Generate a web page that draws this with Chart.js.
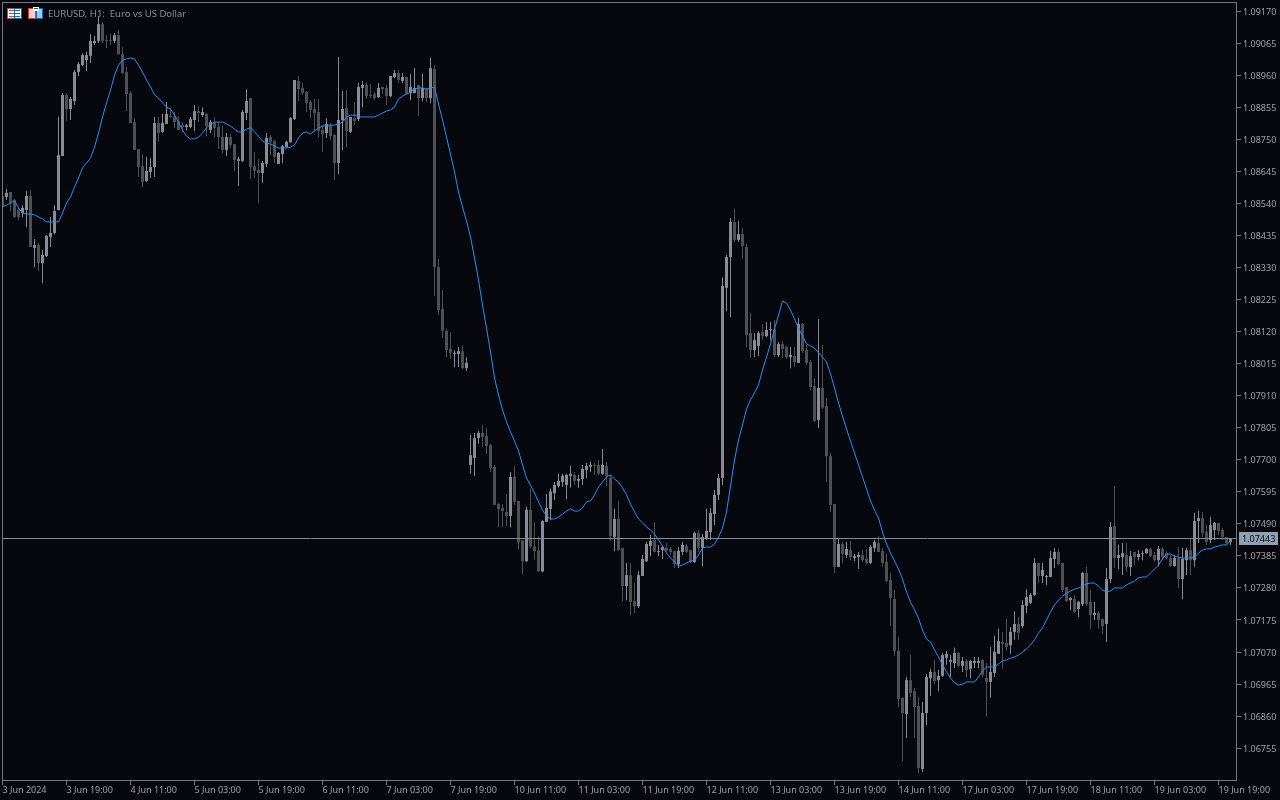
<!DOCTYPE html>
<html><head><meta charset="utf-8">
<style>html,body{margin:0;padding:0;background:#07080d;overflow:hidden}canvas{display:block}</style>
<script src="https://cdn.jsdelivr.net/npm/chart.js@4"></script></head>
<body><canvas id="c" width="1280" height="800"></canvas>
<script>
// All price series are in 1e-5 units (points): 108574 = 1.08574
const highs=[108574,108587,108577,108554,108528,108534,108580,108584,108423,108410,
108387,108436,108495,108534,108823,108901,108901,108888,108977,109003,
109032,109036,109095,109088,109154,109134,109091,109095,109098,109108,
109052,108987,108908,108819,108718,108701,108692,108688,108823,108823,
108833,108872,108852,108839,108826,108806,108800,108823,108862,108859,
108855,108836,108813,108823,108806,108793,108770,108767,108734,108692,
108846,108914,108885,108708,108685,108679,108770,108764,108747,108708,
108731,108744,108823,108944,108957,108934,108908,108878,108882,108882,
108796,108819,108803,108767,109019,108908,108911,108823,108872,108934,
108941,108937,108931,108905,108934,108921,108928,108957,108977,108977,
108967,108954,108964,108983,108928,108964,108918,109016,108993,108358,
108256,108128,108118,108059,108069,108073,108036,107781,107788,107794,
107814,107804,107752,107683,107558,107555,107588,107660,107680,107565,
107436,107547,107606,107495,107449,107502,107588,107606,107627,107654,
107654,107654,107680,107660,107650,107683,107690,107693,107690,107699,
107735,107693,107650,107539,107565,107411,107362,107362,107296,107335,
107388,107431,107454,107496,107421,107418,107427,107414,107401,107414,
107431,107424,107404,107463,107470,107457,107539,107542,107601,107654,
108298,108371,108492,108521,108482,108459,108407,108181,108115,108122,
108145,108151,108151,108158,108086,108089,108073,108069,108069,108164,
108148,108076,108027,107968,108161,108076,107902,107722,107555,107444,
107431,107431,107434,107391,107398,107404,107408,107421,107437,107450,
107411,107394,107329,107273,107119,106920,106988,107060,106952,106923,
106906,106998,107015,107044,107011,107067,107074,107060,107084,107070,
107054,107047,107044,107054,107054,107047,107034,107087,107123,107146,
107136,107178,107152,107204,107185,107240,107276,107263,107378,107362,
107362,107322,107401,107411,107408,107362,107283,107250,107257,107237,
107332,107349,107273,107234,107204,107181,107345,107496,107614,107421,
107427,107427,107401,107398,107404,107401,107411,107411,107398,107417,
107414,107401,107388,107388,107414,107411,107411,107440,107526,107532,
107529,107486,107512,107496,107493,107476,107447,107443];
const lows=[108518,108551,108515,108492,108485,108495,108462,108397,108331,108318,
108279,108364,108397,108439,108518,108695,108810,108813,108862,108957,
108990,108973,109000,109059,109065,109065,109049,109059,109065,109026,
108964,108842,108803,108715,108626,108593,108610,108623,108626,108741,
108770,108800,108819,108787,108780,108774,108780,108787,108777,108806,
108823,108760,108770,108757,108718,108705,108695,108721,108646,108597,
108675,108813,108620,108623,108541,108606,108659,108698,108672,108669,
108672,108724,108738,108813,108875,108895,108839,108819,108774,108757,
108708,108754,108747,108616,108636,108715,108724,108770,108796,108810,
108855,108882,108885,108878,108885,108898,108862,108888,108950,108934,
108934,108898,108878,108901,108826,108875,108872,108869,108236,108174,
108099,108036,108030,108004,108004,107997,107991,107654,107647,107752,
107742,107719,107660,107552,107478,107478,107483,107478,107552,107406,
107324,107367,107409,107373,107334,107331,107496,107502,107568,107608,
107611,107571,107608,107617,107608,107617,107640,107660,107650,107650,
107650,107614,107434,107401,107401,107237,107240,107191,107198,107214,
107319,107365,107384,107398,107384,107375,107398,107388,107345,107345,
107388,107394,107362,107362,107398,107352,107437,107437,107486,107568,
107617,108187,108167,108413,108413,108358,108069,108033,108036,108040,
108092,108102,108092,108036,108036,108033,108030,108000,108004,108017,
108050,108010,107928,107824,107804,107866,107627,107529,107329,107349,
107362,107378,107371,107368,107342,107365,107358,107358,107398,107398,
107349,107299,107155,107057,106890,106713,106788,106923,106788,106674,
106677,106831,106926,106965,106942,106988,107028,106988,107018,107021,
107005,106988,106985,107018,107018,106988,106860,106920,106988,107064,
107015,107074,107064,107110,107110,107149,107198,107227,107253,107296,
107296,107289,107316,107345,107355,107267,107234,107207,107198,107185,
107221,107221,107146,107175,107146,107129,107103,107296,107345,107342,
107322,107332,107319,107355,107371,107371,107391,107381,107365,107352,
107371,107371,107349,107349,107280,107244,107322,107322,107349,107427,
107447,107421,107427,107437,107453,107437,107421,107421];
const opens=[108564,108561,108577,108551,108518,108508,108518,108564,108394,108403,
108344,108367,108430,108443,108518,108695,108895,108849,108875,108970,
108993,109009,109023,109065,109072,109127,109075,109075,109072,109091,
109029,108970,108901,108806,108718,108662,108613,108643,108659,108803,
108774,108800,108826,108823,108810,108796,108790,108790,108813,108842,
108829,108833,108780,108806,108790,108757,108715,108757,108734,108679,
108679,108836,108885,108662,108649,108639,108669,108757,108744,108669,
108701,108724,108741,108816,108941,108918,108905,108872,108849,108839,
108780,108770,108796,108764,108672,108813,108852,108774,108819,108816,
108918,108928,108895,108898,108888,108921,108918,108891,108954,108967,
108941,108954,108901,108901,108928,108885,108914,108885,108980,108331,
108194,108122,108063,108046,108046,108056,108000,107683,107706,107771,
107788,107778,107749,107677,107555,107542,107529,107516,107644,107565,
107436,107367,107536,107416,107403,107334,107496,107539,107591,107614,
107627,107617,107647,107650,107631,107637,107667,107677,107683,107683,
107654,107680,107640,107447,107506,107411,107286,107322,107237,107220,
107319,107368,107417,107437,107398,107404,107411,107408,107401,107358,
107398,107418,107404,107365,107460,107411,107444,107463,107522,107585,
107640,108263,108364,108479,108420,108439,108397,108115,108059,108073,
108118,108105,108125,108128,108043,108079,108069,108036,108040,108017,
108145,108059,108020,107942,107830,107935,107876,107712,107555,107349,
107424,107388,107404,107378,107381,107388,107375,107362,107411,107427,
107401,107365,107306,107244,107074,106920,106867,106978,106942,106893,
106687,106870,106985,107005,106978,106992,107051,107038,107034,107067,
107025,107041,107015,107034,107034,107044,106985,106972,107001,107064,
107103,107100,107093,107136,107162,107155,107221,107231,107257,107362,
107319,107316,107316,107375,107398,107362,107283,107240,107244,107211,
107227,107329,107234,107191,107198,107178,107162,107309,107483,107378,
107381,107388,107349,107398,107381,107391,107394,107408,107388,107371,
107408,107394,107378,107352,107378,107309,107371,107404,107371,107499,
107509,107463,107437,107470,107493,107470,107447,107430];
const closes=[108528,108574,108544,108495,108495,108525,108564,108397,108403,108344,
108371,108433,108443,108515,108698,108895,108849,108882,108970,108996,
109026,109026,109072,109072,109127,109072,109072,109072,109091,109029,
108967,108898,108803,108715,108659,108610,108646,108659,108803,108770,
108803,108833,108823,108806,108780,108790,108796,108816,108842,108836,
108839,108793,108806,108787,108757,108715,108757,108731,108682,108685,
108839,108875,108659,108646,108639,108672,108754,108741,108692,108705,
108728,108741,108819,108944,108914,108901,108869,108846,108836,108777,
108767,108800,108760,108672,108813,108849,108777,108823,108810,108921,
108928,108891,108891,108885,108918,108914,108891,108957,108967,108944,
108954,108898,108921,108918,108885,108918,108885,108983,108331,108190,
108122,108059,108050,108050,108056,108000,108017,107715,107771,107788,
107775,107745,107673,107552,107539,107532,107516,107644,107562,107429,
107367,107536,107416,107400,107334,107499,107542,107596,107617,107631,
107647,107650,107654,107631,107637,107670,107680,107683,107680,107654,
107683,107647,107450,107506,107404,107286,107322,107234,107220,107322,
107375,107424,107434,107398,107401,107414,107404,107398,107358,107401,
107421,107398,107365,107460,107411,107447,107467,107526,107585,107640,
108269,108364,108479,108420,108439,108400,108109,108059,108092,108115,
108105,108125,108128,108043,108079,108063,108036,108043,108020,108145,
108056,108017,107938,107827,107935,107870,107712,107552,107349,107424,
107391,107408,107381,107384,107388,107371,107362,107414,107431,107398,
107362,107303,107247,107073,106916,106870,106978,106936,106890,106690,
106870,106988,107005,106975,106992,107060,107064,107044,107067,107025,
107041,107011,107041,107041,107041,106995,106972,107005,107070,107106,
107097,107087,107136,107162,107133,107224,107250,107257,107362,107319,
107339,107319,107378,107398,107358,107273,107237,107247,107201,107234,
107329,107227,107191,107198,107175,107155,107309,107480,107378,107388,
107394,107349,107384,107381,107391,107394,107408,107384,107371,107408,
107381,107378,107352,107378,107309,107375,107404,107371,107499,107509,
107460,107431,107486,107493,107467,107447,107427,107443];
const maValues=[108528,108534,108541,108548,108525,108508,108505,108505,108502,108495,
108489,108479,108479,108479,108479,108508,108541,108561,108593,108623,
108656,108672,108688,108724,108770,108823,108869,108911,108960,108993,
109009,109013,109016,109013,108993,108970,108944,108921,108895,108885,
108869,108855,108849,108829,108806,108780,108760,108751,108751,108757,
108770,108787,108800,108806,108806,108806,108800,108793,108783,108774,
108774,108783,108787,108774,108760,108744,108738,108734,108728,108721,
108721,108721,108724,108731,108754,108770,108774,108767,108777,108787,
108793,108796,108796,108796,108800,108806,108823,108829,108829,108823,
108823,108823,108823,108823,108829,108836,108842,108846,108855,108882,
108891,108898,108905,108914,108918,108918,108914,108918,108921,108865,
108813,108757,108701,108643,108577,108528,108482,108430,108361,108289,
108207,108131,108053,107968,107912,107863,107824,107791,107761,107729,
107683,107640,107617,107591,107562,107535,107516,107506,107506,107512,
107522,107532,107539,107532,107532,107542,107562,107565,107585,107611,
107627,107644,107650,107637,107627,107608,107585,107555,107529,107506,
107493,107480,107470,107457,107437,107417,107394,107378,107365,107352,
107355,107362,107368,107371,107388,107411,107414,107414,107424,107447,
107476,107529,107614,107699,107765,107814,107866,107896,107919,107945,
107994,108036,108079,108128,108174,108220,108213,108190,108161,108131,
108105,108079,108073,108066,108050,108036,108020,107981,107935,107886,
107843,107801,107761,107722,107683,107644,107604,107565,107535,107509,
107463,107424,107394,107368,107342,107309,107267,107234,107208,107181,
107142,107113,107103,107077,107054,107028,107005,106985,106969,106962,
106965,106972,106972,106972,106988,107008,107021,107021,107021,107031,
107041,107044,107050,107054,107060,107070,107080,107093,107110,107132,
107149,107175,107201,107224,107240,107253,107263,107270,107276,107280,
107286,107293,107296,107296,107286,107273,107267,107270,107280,107280,
107280,107290,107296,107303,107313,107316,107316,107329,107342,107355,
107375,107391,107391,107384,107381,107378,107378,107378,107381,107394,
107404,107408,107408,107414,107417,107421,107421,107434];
const priceTicks=[1.0917,1.09065,1.0896,1.08855,1.0875,1.08645,1.0854,1.08435,1.0833,1.08225,1.0812,1.08015,1.0791,1.07805,1.077,1.07595,1.0749,1.07385,1.0728,1.07175,1.0707,1.06965,1.0686,1.06755];
const timeTickBars=[0,16,32,48,64,80,96,112,128,144,160,176,192,208,224,240,256,272,288,304];
const timeTickLabels=['3 Jun 2024','3 Jun 19:00','4 Jun 11:00','5 Jun 03:00','5 Jun 19:00','6 Jun 11:00','7 Jun 03:00','7 Jun 19:00','10 Jun 11:00','11 Jun 03:00','11 Jun 19:00','12 Jun 11:00','13 Jun 03:00','13 Jun 19:00','14 Jun 11:00','17 Jun 03:00','17 Jun 19:00','18 Jun 11:00','19 Jun 03:00','19 Jun 19:00'];
const lastPrice=1.07443;
const titleText='EURUSD, H1:  Euro vs US Dollar';

const BG='#07080d',FRAME='#77777e',TXT='#a0a0a6',UP='#8b8b96',DOWN='#505053',MA='#1e90ff',LAST='#7d8c9e',FF='"Noto Sans"';
const candleColor=opens.map((o,i)=>closes[i]>=o?UP:DOWN);
const pr=v=>v/100000;

const frame={id:'frame',
 beforeDraw(c){const x=c.ctx;x.save();x.fillStyle=BG;x.fillRect(0,0,c.width,c.height);x.restore();},
 afterDatasetsDraw(c){
  const x=c.ctx,a=c.chartArea,y=c.scales.y;x.save();
  const py=Math.floor(y.getPixelForValue(lastPrice))+0.5;
  x.strokeStyle=LAST;x.lineWidth=1;x.beginPath();x.moveTo(a.left,py);x.lineTo(a.right,py);x.stroke();
  x.strokeStyle=FRAME;x.strokeRect(a.left+0.5,a.top+0.5,a.right-a.left,a.bottom-a.top);
  x.fillStyle='#8fa0b3';x.fillRect(1239,py-6.5,39,13);
  x.fillStyle='#07080d';x.font='9px '+FF;x.textBaseline='middle';x.textAlign='left';x.fillText(lastPrice.toFixed(5),1242,py+0.5);
  // header icons
  const box=(l,t,w,h,s,f)=>{x.fillStyle=f;x.fillRect(l,t,w,h);x.strokeStyle=s;x.strokeRect(l+.5,t+.5,w-1,h-1);};
  box(7,8,8,11,'#e0393a','#ffffff');box(14,8,8,11,'#1565c0','#ffffff');
  x.fillStyle='#e0393a';[10,13,16].forEach(t=>x.fillRect(9,t,5,1));
  x.fillStyle='#1565c0';[10,13,16].forEach(t=>x.fillRect(15,t,5,1));
  box(28,8,8,11,'#e0393a','#ffd0c8');box(36,8,7,11,'#1565c0','#8fd0f5');
  x.fillStyle='#ffffff';x.fillRect(33,7,6,4);x.fillStyle='#555';x.fillRect(34,8,4,1);
  x.fillStyle='#8f8f96';x.font='9.5px '+FF;x.textBaseline='middle';x.fillText(titleText,48,14);
  x.restore();
 }};

new Chart(document.getElementById('c'),{
 data:{datasets:[
  {type:'line',order:0,data:maValues.map((v,i)=>({x:i,y:pr(v)})),borderColor:MA,borderWidth:1,pointRadius:0,tension:0},
  {type:'bar',order:1,data:opens.map((o,i)=>({x:i,y:[pr(o),pr(closes[i])]})),backgroundColor:candleColor,barThickness:3,grouped:false,inflateAmount:0,borderWidth:0},
  {type:'bar',order:2,data:lows.map((l,i)=>({x:i,y:[pr(l),pr(highs[i])]})),backgroundColor:candleColor,barThickness:1,grouped:false,inflateAmount:0,borderWidth:0}
 ]},
 options:{responsive:false,animation:false,devicePixelRatio:1,
  layout:{padding:{left:2,top:2,right:0,bottom:0}},
  plugins:{legend:{display:false},tooltip:{enabled:false},title:{display:false}},
  scales:{
   x:{type:'linear',min:-0.125,max:308.375,offset:false,
    afterFit(s){s.height=20;s.paddingLeft=0;s.paddingRight=0;s.getPadding=()=>({left:0,top:0,right:0,bottom:0});},
    afterBuildTicks(s){s.ticks=timeTickBars.map(v=>({value:v}));},
    border:{display:false},
    grid:{drawOnChartArea:false,drawTicks:true,tickLength:5,tickColor:FRAME,offset:false},
    ticks:{autoSkip:false,maxRotation:0,minRotation:0,align:'start',padding:0,color:TXT,font:{family:'Noto Sans',size:9},
     callback(v){const k=timeTickBars.indexOf(v);return k<0?'':timeTickLabels[k];}}},
   y:{type:'linear',position:'right',min:1.066508,max:1.091995,
    afterFit(s){s.width=44;s.paddingTop=0;s.paddingBottom=0;s.getPadding=()=>({left:0,top:0,right:0,bottom:0});
     if(!s._shifted){s._shifted=true;const base=s._computeLabelItems.bind(s);
      s._computeLabelItems=a=>base(a).map(it=>{it.options.translation=[it.options.translation[0],it.options.translation[1]+1];return it;});}},
    afterBuildTicks(s){s.ticks=priceTicks.map(v=>({value:v}));},
    border:{display:false},
    grid:{drawOnChartArea:false,drawTicks:true,tickLength:5,tickColor:FRAME},
    ticks:{autoSkip:false,padding:2,color:TXT,font:{family:'Noto Sans',size:9},
     callback(v){return v.toFixed(5);}}}
  }},
 plugins:[frame]
});
</script></body></html>
